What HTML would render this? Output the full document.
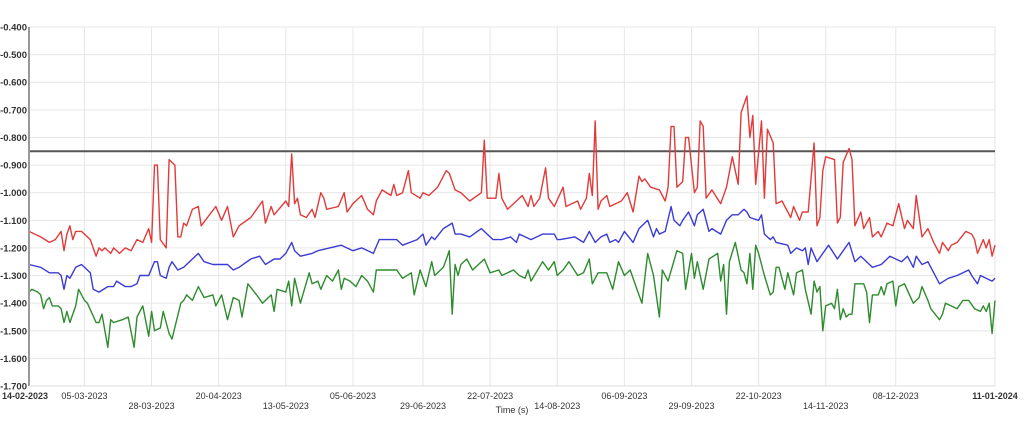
<!DOCTYPE html>
<html><head><meta charset="utf-8"><style>
html,body{margin:0;padding:0;background:#fff;}
svg{display:block;font-family:"Liberation Sans",sans-serif;}
</style></head><body>
<svg id="chart" width="1024" height="439" viewBox="0 0 1024 439" xmlns="http://www.w3.org/2000/svg">
<g id="grid"></g>
<g id="series"></g>
<g id="axes"></g>
</svg>
<script>
const yTicks=[-0.4,-0.5,-0.6,-0.7,-0.8,-0.9,-1.0,-1.1,-1.2,-1.3,-1.4,-1.5,-1.6,-1.7];
const xTickDays=[0,19,42,65,88,111,135,158,181,204,227,250,273,297,331];
const xTickLabels=["14-02-2023","05-03-2023","28-03-2023","20-04-2023","13-05-2023","05-06-2023","29-06-2023","22-07-2023","14-08-2023","06-09-2023","29-09-2023","22-10-2023","14-11-2023","08-12-2023","11-01-2024"];
const thresholdValue=-0.85;
const redDays=[0,4,7,9,11,12,13,14,15,16,18,20,21,23,24,25,26,28,29,31,33,35,37,39,41,42,43,44,45,47,48,50,51,52,53,54,56,58,59,64,66,68,70,72,76,80,81,83,84,88,89,90,91,92,93,95,97,98,100,101,102,106,108,109,111,114,116,118,119,121,124,125,126,128,130,131,134,135,137,140,143,144,146,148,151,155,156,157,160,161,162,164,167,169,171,172,173,175,177,178,180,183,184,188,189,191,192,193,194,195,196,198,199,203,205,207,209,210,211,213,216,218,219,220,221,222,224,225,226,228,229,230,231,232,234,237,239,241,243,244,246,247,248,249,251,252,253,255,256,258,261,262,264,265,267,269,270,271,272,273,276,277,278,279,281,282,283,285,286,288,289,291,292,294,296,298,300,301,303,304,306,308,310,312,313,315,316,318,321,323,324,325,327,328,329,330,331];
const redValues=[-1.14,-1.16,-1.18,-1.17,-1.14,-1.21,-1.15,-1.12,-1.17,-1.14,-1.14,-1.16,-1.17,-1.23,-1.20,-1.21,-1.20,-1.22,-1.20,-1.22,-1.20,-1.21,-1.17,-1.18,-1.13,-1.18,-0.90,-0.90,-1.17,-1.20,-0.88,-0.90,-1.16,-1.16,-1.11,-1.12,-1.06,-1.05,-1.12,-1.05,-1.10,-1.05,-1.16,-1.12,-1.09,-1.03,-1.11,-1.05,-1.08,-1.03,-1.05,-0.86,-1.04,-1.02,-1.08,-1.09,-1.06,-1.09,-1.00,-1.02,-1.06,-1.05,-1.00,-1.07,-1.04,-1.01,-1.06,-1.08,-1.03,-0.99,-1.01,-0.97,-1.01,-1.00,-0.92,-1.00,-1.02,-1.00,-1.01,-0.98,-0.92,-0.93,-0.99,-1.00,-1.03,-1.00,-0.81,-1.02,-1.02,-0.93,-1.02,-1.06,-1.03,-1.01,-1.05,-1.01,-1.05,-1.02,-0.91,-1.02,-1.05,-0.98,-1.05,-1.03,-1.06,-1.02,-0.93,-1.01,-0.74,-1.06,-1.03,-1.01,-1.05,-1.03,-1.00,-1.07,-0.94,-0.96,-0.95,-0.98,-0.99,-1.03,-0.98,-0.76,-0.76,-0.98,-0.96,-0.80,-0.80,-1.00,-0.98,-0.74,-0.76,-1.02,-0.99,-1.04,-0.98,-0.87,-0.97,-0.71,-0.65,-0.80,-0.72,-0.97,-0.74,-1.02,-0.77,-0.82,-1.04,-1.03,-1.09,-1.05,-1.10,-1.07,-1.07,-0.82,-1.12,-1.09,-0.92,-0.87,-0.88,-1.11,-1.09,-0.89,-0.84,-0.88,-1.12,-1.07,-1.13,-1.09,-1.16,-1.14,-1.16,-1.11,-1.12,-1.04,-1.13,-1.10,-1.13,-1.01,-1.16,-1.13,-1.18,-1.22,-1.18,-1.21,-1.19,-1.18,-1.14,-1.15,-1.17,-1.22,-1.17,-1.20,-1.17,-1.23,-1.19];
const blueDays=[0,4,7,10,11,12,13,14,16,18,20,21,22,24,27,29,30,33,35,37,38,41,43,44,45,47,48,49,51,53,55,56,58,60,63,68,70,72,76,79,81,84,86,88,90,91,93,97,99,103,107,111,114,118,120,124,126,128,133,135,136,138,139,142,145,146,148,151,155,159,162,165,167,168,172,176,180,181,182,187,190,192,194,196,198,199,201,202,204,207,209,212,214,215,216,218,220,221,223,224,226,228,229,231,233,234,237,239,241,243,245,246,247,250,251,252,253,254,255,256,260,261,263,265,266,267,268,270,272,274,277,279,281,283,285,289,292,295,299,301,303,304,306,308,312,315,318,322,323,325,326,330,331];
const blueValues=[-1.26,-1.27,-1.29,-1.29,-1.30,-1.35,-1.30,-1.31,-1.27,-1.26,-1.28,-1.29,-1.35,-1.36,-1.34,-1.34,-1.32,-1.34,-1.34,-1.33,-1.30,-1.30,-1.25,-1.25,-1.30,-1.31,-1.27,-1.25,-1.28,-1.27,-1.25,-1.24,-1.22,-1.25,-1.26,-1.26,-1.28,-1.27,-1.24,-1.23,-1.26,-1.24,-1.24,-1.22,-1.18,-1.21,-1.23,-1.22,-1.21,-1.20,-1.19,-1.21,-1.20,-1.22,-1.17,-1.17,-1.17,-1.19,-1.17,-1.15,-1.19,-1.16,-1.17,-1.13,-1.11,-1.15,-1.15,-1.16,-1.13,-1.17,-1.17,-1.16,-1.18,-1.15,-1.17,-1.15,-1.15,-1.17,-1.17,-1.16,-1.18,-1.14,-1.18,-1.16,-1.15,-1.18,-1.17,-1.18,-1.14,-1.18,-1.13,-1.10,-1.16,-1.13,-1.15,-1.14,-1.05,-1.10,-1.12,-1.10,-1.07,-1.12,-1.08,-1.06,-1.14,-1.13,-1.15,-1.10,-1.08,-1.08,-1.06,-1.07,-1.09,-1.10,-1.08,-1.15,-1.16,-1.17,-1.16,-1.18,-1.19,-1.22,-1.20,-1.21,-1.20,-1.26,-1.20,-1.25,-1.22,-1.19,-1.24,-1.21,-1.18,-1.25,-1.23,-1.27,-1.26,-1.23,-1.25,-1.23,-1.27,-1.23,-1.26,-1.25,-1.33,-1.31,-1.30,-1.28,-1.30,-1.33,-1.30,-1.32,-1.31];
const greenDays=[0,1,3,4,5,6,7,8,10,11,12,13,14,16,17,19,20,23,24,25,27,28,29,32,34,36,37,39,41,42,43,45,46,48,49,52,53,54,56,58,59,60,63,64,66,68,70,72,73,75,78,80,83,84,85,88,89,90,91,93,96,97,99,100,102,104,106,107,108,110,112,114,116,118,119,124,126,128,131,132,134,136,138,139,142,144,145,146,147,148,150,152,156,158,161,162,166,168,170,171,172,176,178,180,181,183,185,188,190,192,193,195,198,200,202,204,206,208,210,212,214,216,217,219,222,224,225,227,228,229,231,233,236,237,238,239,240,242,244,245,246,247,248,249,250,252,254,255,256,257,259,260,262,263,265,266,268,269,270,271,272,273,275,276,277,278,279,280,281,282,283,286,287,288,289,291,292,293,294,296,297,298,300,303,305,306,308,309,312,313,314,316,318,320,322,324,326,327,328,329,330,331];
const greenValues=[-1.36,-1.35,-1.36,-1.37,-1.42,-1.39,-1.38,-1.41,-1.41,-1.42,-1.47,-1.43,-1.47,-1.41,-1.35,-1.39,-1.40,-1.47,-1.47,-1.44,-1.56,-1.46,-1.47,-1.46,-1.45,-1.56,-1.45,-1.41,-1.52,-1.43,-1.50,-1.49,-1.43,-1.51,-1.53,-1.40,-1.39,-1.37,-1.39,-1.34,-1.36,-1.38,-1.37,-1.41,-1.37,-1.46,-1.38,-1.39,-1.45,-1.33,-1.37,-1.40,-1.37,-1.43,-1.35,-1.36,-1.32,-1.41,-1.31,-1.40,-1.29,-1.33,-1.32,-1.35,-1.30,-1.32,-1.28,-1.35,-1.31,-1.32,-1.34,-1.30,-1.32,-1.36,-1.28,-1.28,-1.28,-1.31,-1.29,-1.37,-1.28,-1.34,-1.25,-1.30,-1.27,-1.21,-1.44,-1.26,-1.30,-1.26,-1.24,-1.28,-1.24,-1.29,-1.28,-1.30,-1.28,-1.30,-1.31,-1.28,-1.32,-1.25,-1.28,-1.25,-1.30,-1.28,-1.25,-1.30,-1.29,-1.24,-1.33,-1.29,-1.29,-1.35,-1.25,-1.30,-1.28,-1.34,-1.40,-1.22,-1.30,-1.45,-1.28,-1.32,-1.21,-1.22,-1.35,-1.22,-1.31,-1.25,-1.35,-1.24,-1.22,-1.32,-1.26,-1.44,-1.25,-1.18,-1.28,-1.29,-1.33,-1.22,-1.35,-1.19,-1.22,-1.30,-1.37,-1.36,-1.27,-1.27,-1.35,-1.29,-1.37,-1.29,-1.28,-1.35,-1.44,-1.32,-1.36,-1.34,-1.50,-1.41,-1.40,-1.42,-1.35,-1.46,-1.42,-1.45,-1.44,-1.44,-1.33,-1.33,-1.36,-1.47,-1.37,-1.37,-1.34,-1.37,-1.33,-1.32,-1.41,-1.34,-1.33,-1.40,-1.38,-1.34,-1.39,-1.42,-1.46,-1.44,-1.40,-1.41,-1.42,-1.39,-1.39,-1.42,-1.43,-1.41,-1.43,-1.40,-1.51,-1.39];

const NS="http://www.w3.org/2000/svg";
const L=29,R=995,T=27,B=386,D0=0,D1=331,V0=-0.4,V1=-1.7;
function xs(d){return L+(d-D0)/(D1-D0)*(R-L);}
function ys(v){return T+(V0-v)/(V0-V1)*(B-T);}
function mk(tag,attrs,parent){const e=document.createElementNS(NS,tag);for(const k in attrs)e.setAttribute(k,attrs[k]);parent.appendChild(e);return e;}
const grid=document.getElementById('grid'),axes=document.getElementById('axes'),ser=document.getElementById('series');

yTicks.forEach(v=>{
  const ln=mk('line',{x1:L,x2:R,y1:ys(v),y2:ys(v),stroke:'#e6e6e6','stroke-width':1},grid);
  
  
  const t=mk('text',{x:27,y:ys(v)+3.5,'text-anchor':'end','font-size':9.5,'font-weight':'bold',fill:'#333'},axes);
  t.textContent=v.toFixed(3);
  
  
});
xTickDays.forEach((d,i)=>{
  if(i>0){
    const ln=mk('line',{x1:xs(d),x2:xs(d),y1:T,y2:B,stroke:'#e6e6e6','stroke-width':1},grid);
    
    
  }
  const last=i===xTickDays.length-1, first=i===0;
  const row2=(!first&&!last&&i%2===0);
  const t=mk('text',{x:first?2:xs(d),y:row2?409:399,'text-anchor':first?'start':'middle','font-size':9,fill:'#333','font-weight':(first||last)?'bold':'normal'},axes);
  t.textContent=xTickLabels[i];
  
  
});
const ax=mk('line',{x1:L,x2:L,y1:T,y2:B,stroke:'#999','stroke-width':2},axes);


const bx=mk('line',{x1:L,x2:R,y1:B,y2:B,stroke:'#ddd','stroke-width':1},axes);


const xt=mk('text',{x:512,y:413,'text-anchor':'middle','font-size':9,fill:'#333'},axes);
xt.textContent='Time (s)';



const th=mk('line',{x1:L,x2:R,y1:ys(thresholdValue),y2:ys(thresholdValue),stroke:'#555','stroke-width':2},ser);



function drawSeries(days,vals,color,name){
  const pts=days.map((d,i)=>xs(d).toFixed(1)+','+ys(vals[i]).toFixed(1)).join(' ');
  const p=mk('polyline',{points:pts,fill:'none',stroke:color,'stroke-width':1.4,'stroke-linejoin':'round'},ser);
  
  
}
drawSeries(redDays,redValues,'#e23a3a','red-series-line');
drawSeries(blueDays,blueValues,'#3b3bd6','blue-series-line');
drawSeries(greenDays,greenValues,'#2e8b2e','green-series-line');
</script>
</body></html>
